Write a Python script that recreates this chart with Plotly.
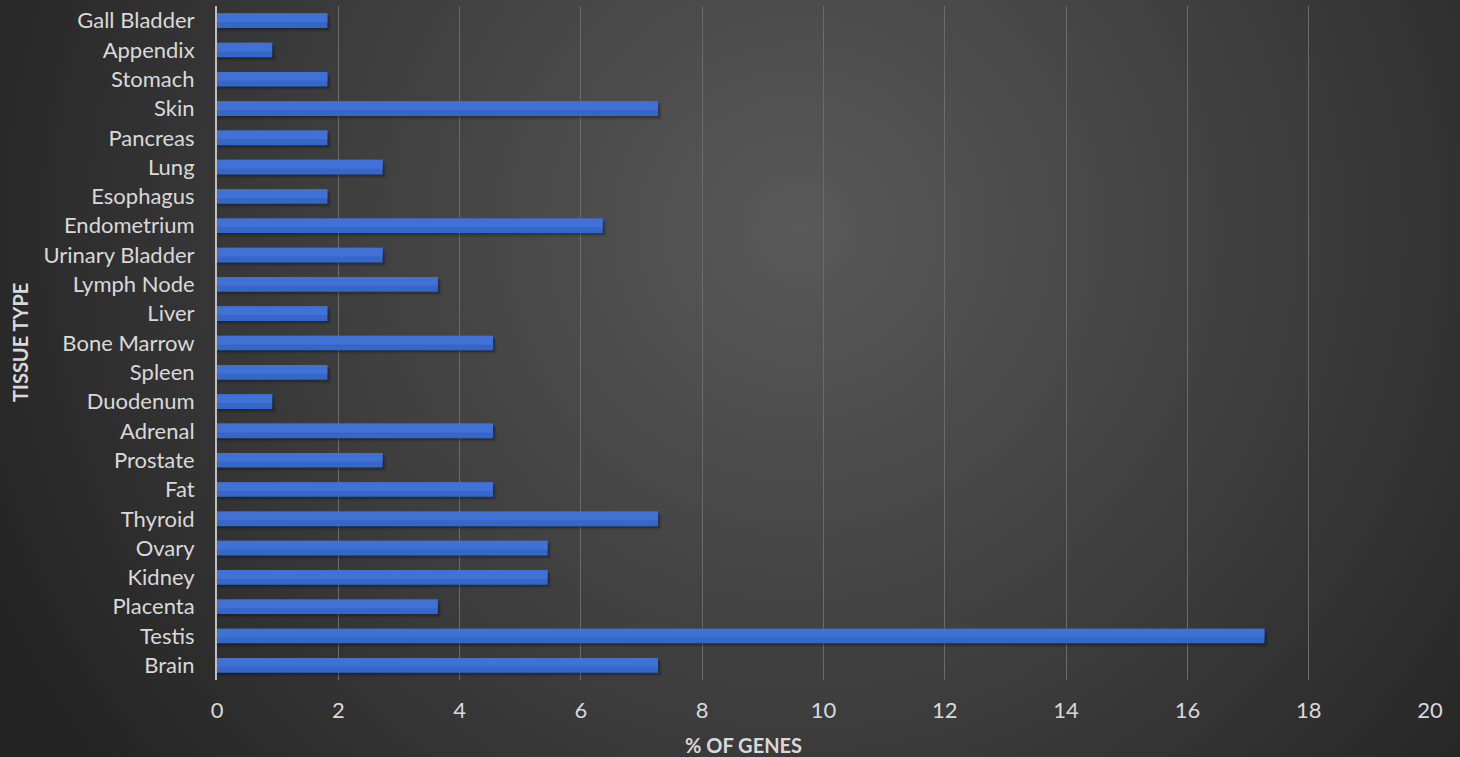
import base64
import plotly.graph_objects as go

# Tissues listed bottom-to-top, with % of genes enriched in each tissue
tissues = [
    "Brain", "Testis", "Placenta", "Kidney", "Ovary", "Thyroid", "Fat",
    "Prostate", "Adrenal", "Duodenum", "Spleen", "Bone Marrow", "Liver",
    "Lymph Node", "Urinary Bladder", "Endometrium", "Esophagus", "Lung",
    "Pancreas", "Skin", "Stomach", "Appendix", "Gall Bladder",
]
pct_genes = [
    7.27, 17.27, 3.64, 5.45, 5.45, 7.27, 4.55,
    2.73, 4.55, 0.91, 1.82, 4.55, 1.82,
    3.64, 2.73, 6.36, 1.82, 2.73,
    1.82, 7.27, 1.82, 0.91, 1.82,
]
x_ticks = [0, 2, 4, 6, 8, 10, 12, 14, 16, 18, 20]

W, H = 1460, 757
ML, MR, MT, MB = 217, 30, 6, 77
PW, PH = W - ML - MR, H - MT - MB

FONT = "Lato, 'Open Sans', sans-serif"
TXT = "#d9d9d9"

# Radial-gradient backdrop as an inline SVG
svg = f"""<svg xmlns='http://www.w3.org/2000/svg' width='{W}' height='{H}' viewBox='0 0 {W} {H}' preserveAspectRatio='none'>
<defs><radialGradient id='g' gradientUnits='userSpaceOnUse' cx='800' cy='230' r='880'>
<stop offset='0' stop-color='#595959'/><stop offset='0.55' stop-color='#3d3d3d'/><stop offset='1' stop-color='#242424'/>
</radialGradient></defs><rect width='{W}' height='{H}' fill='url(#g)'/></svg>"""
bg_src = "data:image/svg+xml;base64," + base64.b64encode(svg.encode()).decode()

BAR_W = 0.5
fig = go.Figure()
# soft drop shadow under each bar (two layers to fake a blur)
for dx, dy, alpha in [(0.06, 0.12, 0.12), (0.03, 0.06, 0.18)]:
    fig.add_trace(go.Bar(
        x=[v + dx for v in pct_genes], y=tissues, orientation="h",
        width=BAR_W, offset=-BAR_W / 2 - dy,
        marker=dict(color=f"rgba(0,0,0,{alpha})", line=dict(width=0)),
        hoverinfo="skip", showlegend=False,
    ))
# main bars
fig.add_trace(go.Bar(
    x=pct_genes, y=tissues, orientation="h",
    width=BAR_W, offset=-BAR_W / 2,
    marker=dict(color="#3766c9", line=dict(width=0)),
    showlegend=False,
))
# lighter upper part for a bevelled look
fig.add_trace(go.Bar(
    x=pct_genes, y=tissues, orientation="h",
    width=BAR_W * 0.6, offset=BAR_W / 2 - BAR_W * 0.6,
    marker=dict(color="#3f71d6", line=dict(width=0)),
    hoverinfo="skip", showlegend=False,
))

fig.update_layout(
    width=W, height=H,
    margin=dict(l=ML, r=MR, t=MT, b=MB, pad=0),
    paper_bgcolor="#2e2e2e", plot_bgcolor="rgba(0,0,0,0)",
    barmode="overlay",
    font=dict(family=FONT, color=TXT, size=22),
    images=[dict(
        source=bg_src, xref="paper", yref="paper",
        x=-ML / PW, y=1 + MT / PH, sizex=W / PW, sizey=H / PH,
        xanchor="left", yanchor="top", sizing="stretch", layer="below",
    )],
    xaxis=dict(
        range=[0, 20], tickvals=x_ticks, ticktext=[str(t) for t in x_ticks],
        showgrid=True, gridcolor="#6b6b6b", gridwidth=1,
        zeroline=False, showline=False, ticks="",
        ticklabelstandoff=15, tickfont=dict(size=22, color=TXT),
        fixedrange=True,
    ),
    yaxis=dict(
        type="category", categoryorder="array", categoryarray=tissues,
        range=[-0.5, len(tissues) - 0.5],
        showgrid=False, zeroline=False,
        showline=True, linecolor="#bfbfbf", linewidth=2,
        ticks="", ticklabelstandoff=16, tickfont=dict(size=22, color=TXT),
        fixedrange=True,
    ),
    annotations=[
        dict(text="<b>TISSUE TYPE</b>", textangle=-90, xref="paper", yref="paper",
             x=(20 - ML) / PW, y=0.5, xanchor="center", yanchor="middle",
             showarrow=False, font=dict(family=FONT, size=20, color=TXT)),
        dict(text="<b>% OF GENES</b>", xref="paper", yref="paper",
             x=(743 - ML) / PW, y=-(745 - (MT + PH)) / PH,
             xanchor="center", yanchor="middle",
             showarrow=False, font=dict(family=FONT, size=20, color=TXT)),
    ],
)

fig.write_html("out.html")
